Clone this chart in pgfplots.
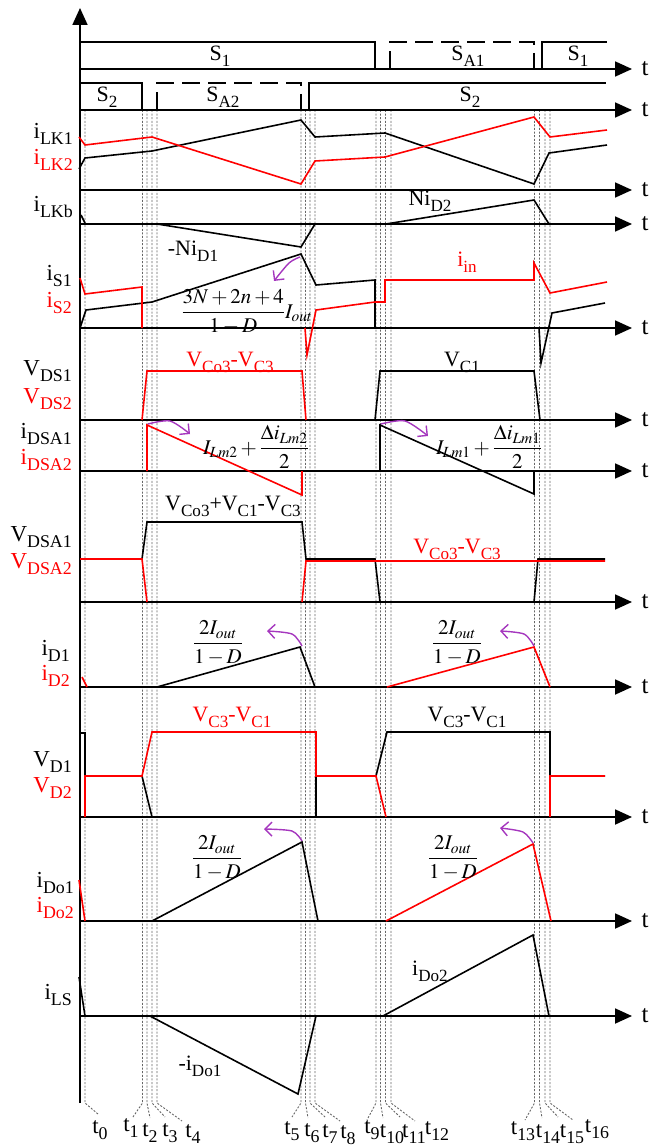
\documentclass[border=0pt]{standalone}
\usepackage{amsmath}
\usepackage{mathptmx}
\usepackage{graphicx}
\usepackage{fontspec}
\setmainfont{Liberation Serif}
\usepackage{pgfplots}
\pgfplotsset{compat=1.18}
\usetikzlibrary{arrows.meta}
\definecolor{arc}{RGB}{165,55,190}
\newcommand{\sbs}[1]{\raisebox{-0.28em}{\scalebox{0.78}{#1}}}
\tikzset{
    wave/.style={black, line width=1.6pt},
    redw/.style={red, line width=1.6pt},
    sig/.style={black, line width=1.6pt},
    dsig/.style={black, line width=1.6pt, dash pattern=on 18bp off 8bp},
    ax/.style={black, line width=1.8pt, -{Triangle[length=17bp,width=15bp]}},
    tl/.style={black!60, line width=0.9pt, dash pattern=on 2bp off 1.6bp},
    arr/.style={arc, line width=1.4pt, -{Straight Barb[length=7bp,width=14bp]}},
    lab/.style={font=\fontsize{22}{26}\selectfont, inner sep=0pt},
    llab/.style={font=\fontsize{23}{26}\selectfont, inner sep=0pt, anchor=east},
    tlab/.style={font=\fontsize{23}{26}\selectfont, inner sep=0pt},
    mlab/.style={font=\fontsize{21}{24}\selectfont, inner sep=0pt},
}
\begin{document}
\begin{tikzpicture}
\begin{axis}[
    width=652bp, height=1148bp, scale only axis,
    xmin=0, xmax=652, ymin=0, ymax=1148,
    y dir=reverse, hide axis, clip=false,
]
\addplot[draw=none] coordinates {(0,0) (652,1148)};

% time instants
\addplot[tl] coordinates {(85,110) (85,1103) (98,1114)};
\addplot[tl] coordinates {(142.5,110) (142.5,1103) (133,1117)};
\addplot[tl] coordinates {(147,110) (147,1103) (150,1118)};
\addplot[tl] coordinates {(152,110) (152,1103) (165,1117)};
\addplot[tl] coordinates {(157,110) (157,1103) (182,1121)};
\addplot[tl] coordinates {(301,110) (301,1103) (292,1117)};
\addplot[tl] coordinates {(305.5,110) (305.5,1103) (308,1118)};
\addplot[tl] coordinates {(310,110) (310,1103) (325,1117)};
\addplot[tl] coordinates {(315,110) (315,1103) (340,1121)};
\addplot[tl] coordinates {(376,110) (376,1103) (367,1120)};
\addplot[tl] coordinates {(380.5,110) (380.5,1103) (383,1118)};
\addplot[tl] coordinates {(385.5,110) (385.5,1103) (400,1117)};
\addplot[tl] coordinates {(391,110) (391,1103) (415,1121)};
\addplot[tl] coordinates {(534.5,110) (534.5,1103) (525,1120)};
\addplot[tl] coordinates {(539.5,110) (539.5,1103) (542,1118)};
\addplot[tl] coordinates {(545,110) (545,1103) (558,1117)};
\addplot[tl] coordinates {(550,110) (550,1103) (573,1120)};

% axes
\addplot[ax] coordinates {(80,1103) (80,8)};
\addplot[ax] coordinates {(80,69) (632,69)};
\addplot[ax] coordinates {(80,110) (632,110)};
\addplot[ax] coordinates {(80,190) (632,190)};
\addplot[ax] coordinates {(80,224) (632,224)};
\addplot[ax] coordinates {(80,328) (632,328)};
\addplot[ax] coordinates {(80,420) (632,420)};
\addplot[ax] coordinates {(80,471) (632,471)};
\addplot[ax] coordinates {(80,602) (632,602)};
\addplot[ax] coordinates {(80,687) (632,687)};
\addplot[ax] coordinates {(80,817) (632,817)};
\addplot[ax] coordinates {(80,921) (632,921)};
\addplot[ax] coordinates {(80,1016) (632,1016)};

% gate signals
\addplot[sig] coordinates {(80,42) (375,42) (375,69)};
\addplot[dsig] coordinates {(390,69) (390,42) (534,42) (534,69)};
\addplot[sig] coordinates {(542,69) (542,42) (607,42)};
\addplot[sig] coordinates {(80,83) (142,83) (142,110)};
\addplot[dsig] coordinates {(157,110) (157,83) (301,83) (301,110)};
\addplot[sig] coordinates {(309,110) (309,83) (606,83)};

% iLK1, iLK2
\addplot[wave] coordinates {(79,169) (85,158) (152,151) (301,120) (315,137) (385,133) (534,184) (549,153) (607,145)};
\addplot[redw] coordinates {(79,137) (85,145) (152,137) (301,184) (315,161) (385,157) (534,117) (550,137) (607,130)};

% iLKb
\addplot[wave] coordinates {(81,215) (85,223)};
\addplot[wave] coordinates {(157,224) (301,247) (315,224)};
\addplot[wave] coordinates {(386,224) (534,200) (549,224)};

% iS1, iS2
\addplot[wave] coordinates {(80,328) (86,310) (152,302) (301,254) (316,285) (375,280) (375,328)};
\addplot[wave] coordinates {(539,328) (541,363) (552,313) (605,303)};
\addplot[redw] coordinates {(80,278) (85,294) (142,287) (142,328)};
\addplot[redw] coordinates {(305,328) (307,355) (316,310) (375,302) (385,302) (385,280) (534,280) (534,263) (550,293) (607,282)};

% VDS1, VDS2
\addplot[redw] coordinates {(142,420) (147,371) (302,371) (306,420)};
\addplot[wave] coordinates {(375,420) (380,371) (534,371) (540,420)};

% iDSA1, iDSA2
\addplot[redw] coordinates {(147,471) (147,425) (302,495) (302,471)};
\addplot[wave] coordinates {(380,471) (380,425) (534,494) (534,471)};

% VDSA1, VDSA2
\addplot[wave] coordinates {(80,559) (142,559) (147,522) (302,522) (306,559) (375,559) (380,602)};
\addplot[wave] coordinates {(534,602) (538,559) (605,559)};
\addplot[redw] coordinates {(80,559) (142,559) (147,602)};
\addplot[redw] coordinates {(302,602) (306,561) (605,561)};

% iD1, iD2
\addplot[wave] coordinates {(157,687) (300,647) (315,687)};
\addplot[redw] coordinates {(82,677) (87,687)};
\addplot[redw] coordinates {(387,687) (534,647) (550,687)};

% VD1, VD2
\addplot[wave] coordinates {(80,733) (85,733) (85,776) (142,776) (152,817)};
\addplot[wave] coordinates {(316,817) (316,776) (376,776) (387,732) (550,732) (550,776) (605,776)};
\addplot[redw] coordinates {(85,817) (85,776) (142,776) (152,732) (316,732) (316,776) (376,776) (386,817)};
\addplot[redw] coordinates {(550,817) (550,776) (605,776)};

% iDo1, iDo2
\addplot[wave] coordinates {(152,921) (302,842) (318,921)};
\addplot[redw] coordinates {(79,880) (85,921)};
\addplot[redw] coordinates {(386,921) (533,844) (551,921)};

% iLS
\addplot[wave] coordinates {(79,977) (85,1016)};
\addplot[wave] coordinates {(150,1016) (298,1094) (316,1016)};
\addplot[wave] coordinates {(383,1016) (533,935) (549,1016)};

% curved arrows
\addplot[arr, smooth] coordinates {(300,257) (289,263) (274,281)};
\addplot[arr, smooth] coordinates {(148,424) (170,421) (190,434)};
\addplot[arr, smooth] coordinates {(381,424) (405,421) (428,436)};
\addplot[arr, smooth] coordinates {(302,646) (292,634) (267,631)};
\addplot[arr, smooth] coordinates {(534,646) (524,634) (500,631)};
\addplot[arr, smooth] coordinates {(302,841) (292,831) (264,829)};
\addplot[arr, smooth] coordinates {(533,843) (523,832) (500,828)};

% t labels on axes
\node[tlab, font=\fontsize{25}{28}\selectfont] at (axis cs:645,69) {t};
\node[tlab, font=\fontsize{25}{28}\selectfont] at (axis cs:645,110) {t};
\node[tlab, font=\fontsize{25}{28}\selectfont] at (axis cs:645,190) {t};
\node[tlab, font=\fontsize{25}{28}\selectfont] at (axis cs:645,224) {t};
\node[tlab, font=\fontsize{25}{28}\selectfont] at (axis cs:645,328) {t};
\node[tlab, font=\fontsize{25}{28}\selectfont] at (axis cs:645,420) {t};
\node[tlab, font=\fontsize{25}{28}\selectfont] at (axis cs:645,471) {t};
\node[tlab, font=\fontsize{25}{28}\selectfont] at (axis cs:645,602) {t};
\node[tlab, font=\fontsize{25}{28}\selectfont] at (axis cs:645,687) {t};
\node[tlab, font=\fontsize{25}{28}\selectfont] at (axis cs:645,817) {t};
\node[tlab, font=\fontsize{25}{28}\selectfont] at (axis cs:645,921) {t};
\node[tlab, font=\fontsize{25}{28}\selectfont] at (axis cs:645,1016) {t};

% gate labels
\node[lab] at (axis cs:220,56) {S\sbs{1}};
\node[lab] at (axis cs:468,56) {S\sbs{A1}};
\node[lab] at (axis cs:578,56) {S\sbs{1}};
\node[lab] at (axis cs:107,97) {S\sbs{2}};
\node[lab] at (axis cs:223,97) {S\sbs{A2}};
\node[lab] at (axis cs:470,97) {S\sbs{2}};

% left labels
\node[llab] at (axis cs:73,134) {i\sbs{LK1}};
\node[llab, red] at (axis cs:73,160) {i\sbs{LK2}};
\node[llab] at (axis cs:73,207) {i\sbs{LKb}};
\node[llab] at (axis cs:72,276) {i\sbs{S1}};
\node[llab, red] at (axis cs:72,303) {i\sbs{S2}};
\node[llab] at (axis cs:72,371) {V\sbs{DS1}};
\node[llab, red] at (axis cs:72,399) {V\sbs{DS2}};
\node[llab] at (axis cs:72,434) {i\sbs{DSA1}};
\node[llab, red] at (axis cs:72,460) {i\sbs{DSA2}};
\node[llab] at (axis cs:72,537) {V\sbs{DSA1}};
\node[llab, red] at (axis cs:72,564) {V\sbs{DSA2}};
\node[llab] at (axis cs:70,651) {i\sbs{D1}};
\node[llab, red] at (axis cs:70,676) {i\sbs{D2}};
\node[llab] at (axis cs:72,762) {V\sbs{D1}};
\node[llab, red] at (axis cs:72,788) {V\sbs{D2}};
\node[llab] at (axis cs:74,883) {i\sbs{Do1}};
\node[llab, red] at (axis cs:74,908) {i\sbs{Do2}};
\node[llab] at (axis cs:72,995) {i\sbs{LS}};

% waveform labels
\node[lab] at (axis cs:193,251) {-Ni\sbs{D1}};
\node[lab] at (axis cs:430,201) {Ni\sbs{D2}};
\node[lab, red] at (axis cs:467,262) {i\sbs{in}};
\node[mlab] at (axis cs:247,312) {$\dfrac{3N+2n+4}{1-D}I_{out}$};
\node[lab, red] at (axis cs:230,362) {V\sbs{Co3}-V\sbs{C3}};
\node[lab] at (axis cs:462,362) {V\sbs{C1}};
\node[mlab] at (axis cs:256,447) {$I_{Lm2}+\dfrac{\Delta i_{Lm2}}{2}$};
\node[mlab] at (axis cs:489,447) {$I_{Lm1}+\dfrac{\Delta i_{Lm1}}{2}$};
\node[lab] at (axis cs:233,506) {V\sbs{Co3}+V\sbs{C1}-V\sbs{C3}};
\node[lab, red] at (axis cs:457,549) {V\sbs{Co3}-V\sbs{C3}};
\node[mlab] at (axis cs:218,643) {$\dfrac{2I_{out}}{1-D}$};
\node[mlab] at (axis cs:457,643) {$\dfrac{2I_{out}}{1-D}$};
\node[lab, red] at (axis cs:232,717) {V\sbs{C3}-V\sbs{C1}};
\node[lab] at (axis cs:467,717) {V\sbs{C3}-V\sbs{C1}};
\node[mlab] at (axis cs:217,858) {$\dfrac{2I_{out}}{1-D}$};
\node[mlab] at (axis cs:453,858) {$\dfrac{2I_{out}}{1-D}$};
\node[lab] at (axis cs:200,1066) {-i\sbs{Do1}};
\node[lab] at (axis cs:430,971) {i\sbs{Do2}};

% instant labels
\node[tlab] at (axis cs:100,1130) {t\sbs{0}};
\node[tlab] at (axis cs:131,1128) {t\sbs{1}};
\node[tlab] at (axis cs:150,1133) {t\sbs{2}};
\node[tlab] at (axis cs:170,1133) {t\sbs{3}};
\node[tlab] at (axis cs:193,1134) {t\sbs{4}};
\node[tlab] at (axis cs:292,1131) {t\sbs{5}};
\node[tlab] at (axis cs:312,1133) {t\sbs{6}};
\node[tlab] at (axis cs:330,1134) {t\sbs{7}};
\node[tlab] at (axis cs:348,1135) {t\sbs{8}};
\node[tlab] at (axis cs:372,1130) {t\sbs{9}};
\node[tlab] at (axis cs:392,1134) {t\sbs{10}};
\node[tlab] at (axis cs:414,1134) {t\sbs{11}};
\node[tlab] at (axis cs:437,1131) {t\sbs{12}};
\node[tlab] at (axis cs:523,1131) {t\sbs{13}};
\node[tlab] at (axis cs:548,1134) {t\sbs{14}};
\node[tlab] at (axis cs:572,1134) {t\sbs{15}};
\node[tlab] at (axis cs:597,1129) {t\sbs{16}};
\end{axis}
\end{tikzpicture}
\end{document}
